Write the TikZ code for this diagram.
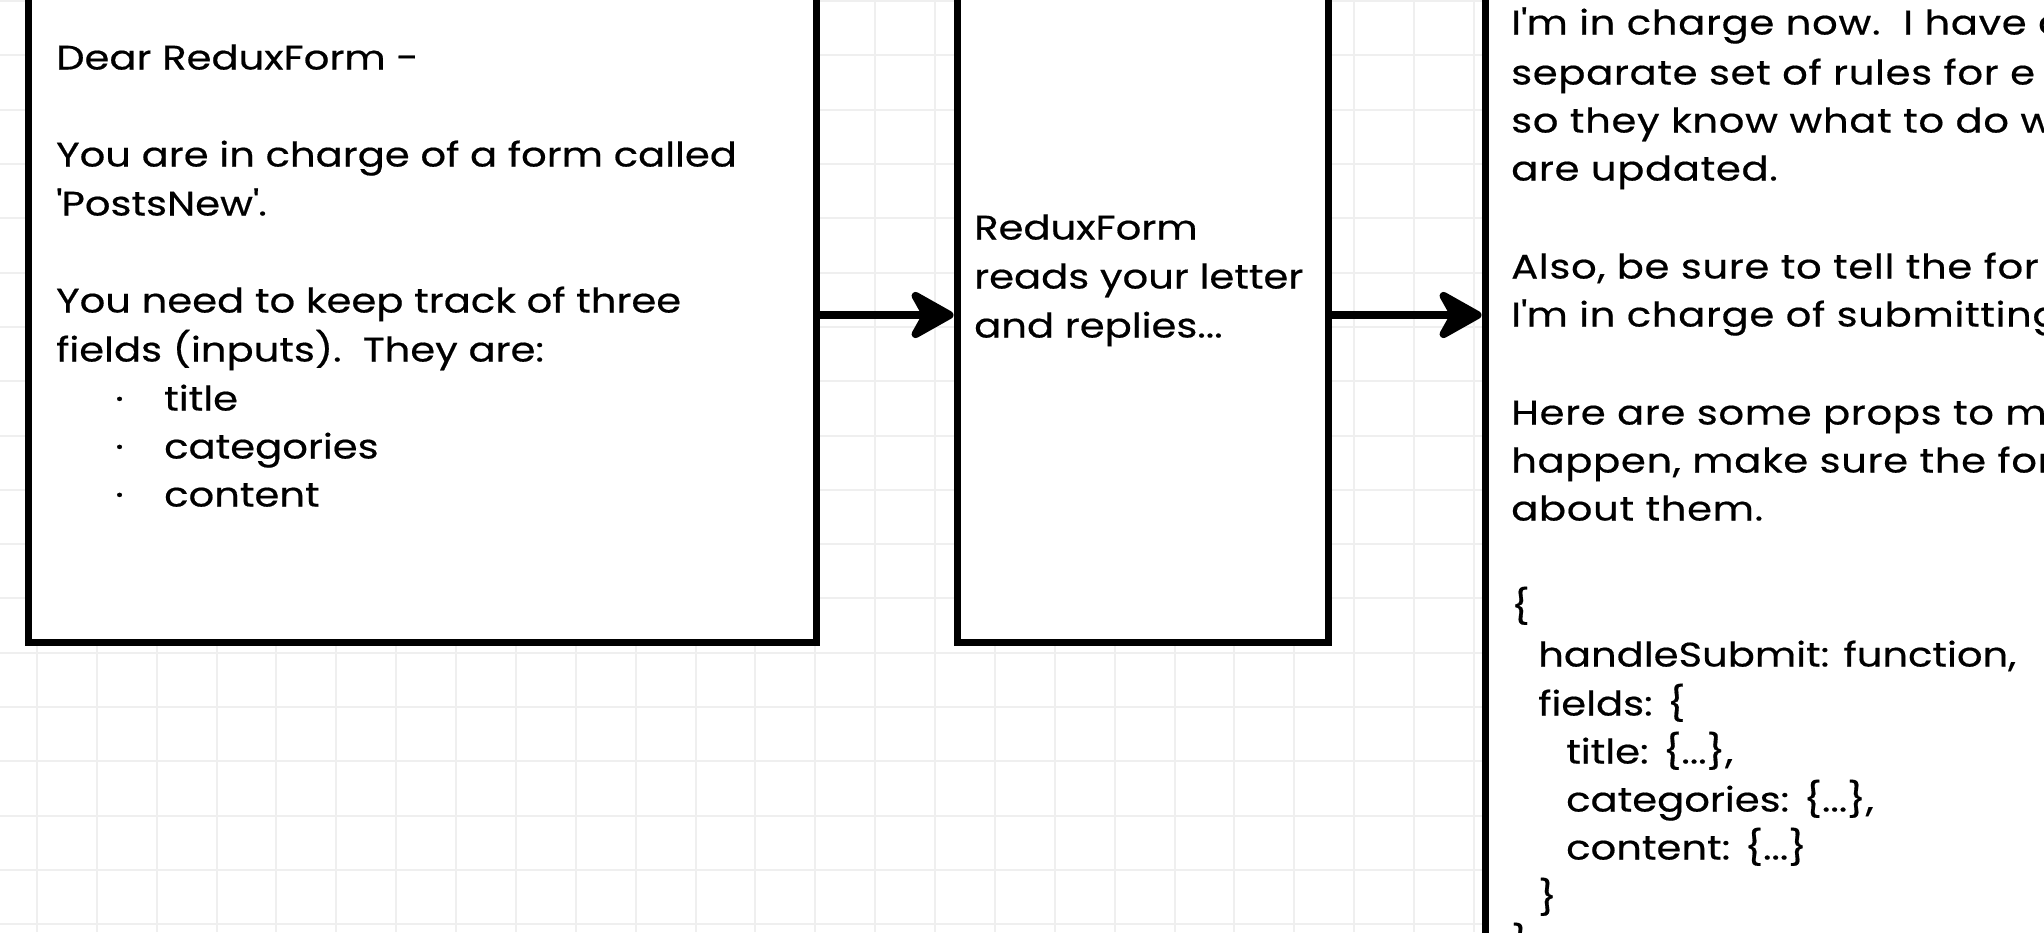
\documentclass[tikz,border=0pt]{standalone}
\usepackage{fontspec}
\newfontfamily\sketchfont{Poppins}[FakeStretch=1.18, FakeBold=0.5]
\newfontfamily\sketchwide{Poppins}[FakeStretch=1.18, FakeBold=0.5, LetterSpace=2]
\usetikzlibrary{arrows.meta}
\definecolor{gridgray}{HTML}{EFEFEF}
\tikzset{
  card/.style={draw=black, fill=white, line width=7pt, inner sep=0pt},
  txt/.style={anchor=west, inner sep=0pt, font=\sketchfont\fontsize{34}{49}\selectfont, text height=0.75em, text depth=0.25em},
  widetxt/.style={txt, font=\sketchwide\fontsize{34}{49}\selectfont},
  flow/.style={line width=8pt, -{Stealth[length=52pt, width=58pt, inset=16pt, round]}}
}
\begin{document}
\begin{tikzpicture}
[x=1pt, y=-1pt]
\useasboundingbox (0,0) rectangle (2044,932);
\clip (0,0) rectangle (2044,932);
\fill[white] (0,0) rectangle (2044,932);
\foreach \gx in {0,...,34} \draw[gridgray, line width=2pt] ({37+59.87*\gx},0) -- ++(0,932);
\foreach \gy in {0,...,17} \draw[gridgray, line width=2pt] (0,{1.1+54.3*\gy}) -- ++(2044,0);
\node[card, minimum width=788pt, minimum height=654pt] (letter) at (422,315) {};
\node[card, minimum width=371pt, minimum height=654pt] (reader) at (1142.5,315) {};
\node[card, minimum width=715pt, minimum height=1430pt] (reply) at (1842.5,315) {};
\draw[flow] (letter.east) -- (reader.west);
\draw[flow] (reader.east) -- (reply.west);
\node[txt] (dear) at (56,67) {Dear ReduxForm -};
\node[txt] (incharge) at (56,164) {You are in charge of a form called};
\node[txt] (formname) at (56,213) {\textquotesingle PostsNew\textquotesingle.};
\node[txt] (keeptrack) at (56,310) {You need to keep track of three};
\node[txt] (theyare) at (56,359) {fields (inputs).\ \ They are:};
\node[txt] (dot1) at (115,408) {\textperiodcentered};
\node[txt] (dot2) at (115,456) {\textperiodcentered};
\node[txt] (dot3) at (115,504) {\textperiodcentered};
\node[txt] (ftitle) at (164,408) {title};
\node[txt] (fcategories) at (164,456) {categories};
\node[txt] (fcontent) at (164,504) {content};
\node[txt] (rname) at (974,237) {ReduxForm};
\node[txt] (rreads) at (974,286) {reads your letter};
\node[txt] (rreplies) at (974,335) {and replies...};
\node[widetxt] (p1) at (1511,32) {I\textquotesingle m in charge now.\ \ I have a};
\node[widetxt] (p2) at (1511,82) {separate set of rules for e};
\node[widetxt] (p3) at (1511,130) {so they know what to do w};
\node[widetxt] (p4) at (1511,178) {are updated.};
\node[widetxt] (p5) at (1511,276) {Also, be sure to tell the for};
\node[widetxt] (p6) at (1511,324) {I\textquotesingle m in charge of submitting};
\node[widetxt] (p7) at (1511,422) {Here are some props to ma};
\node[widetxt] (p8) at (1511,470) {happen, make sure the form};
\node[widetxt] (p9) at (1511,518) {about them.};
\node[txt] (c1) at (1511,616) {\{};
\node[txt] (c2) at (1538,664) {handleSubmit: function,};
\node[txt] (c3) at (1538,713) {fields: \{};
\node[txt] (c4) at (1566,761) {title: \{...\},};
\node[txt] (c5) at (1566,809) {categories: \{...\},};
\node[txt] (c6) at (1566,857) {content: \{...\}};
\node[txt] (c7) at (1538,907) {\}};
\node[txt] (c8) at (1511,952) {\}};
\end{tikzpicture}
\end{document}
